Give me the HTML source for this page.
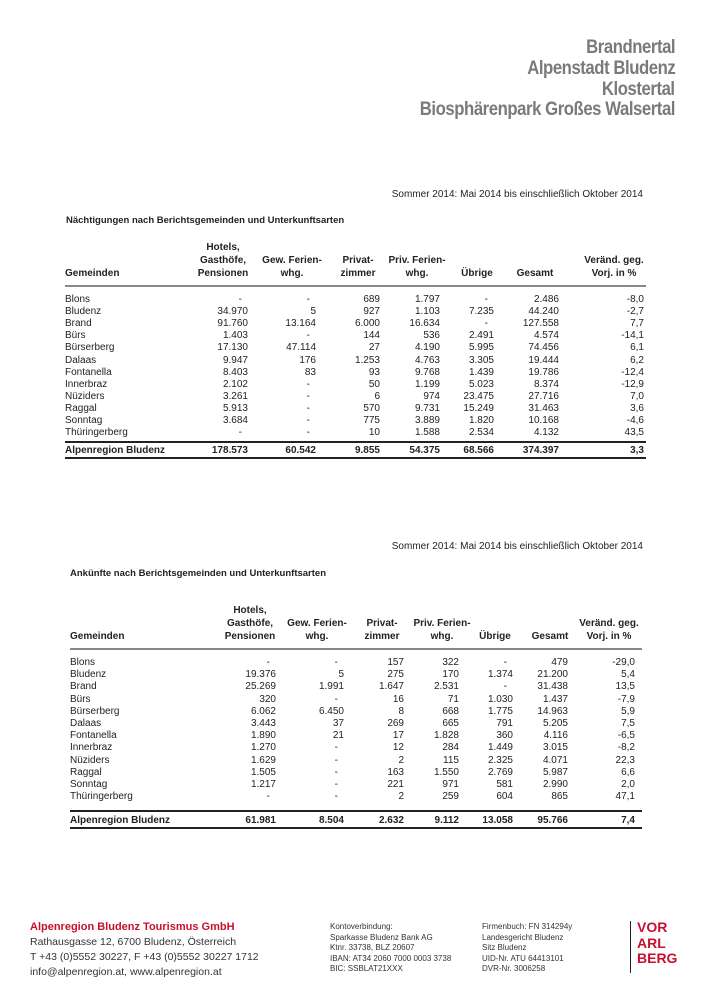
<!DOCTYPE html>
<html><head><meta charset="utf-8"><style>
body{margin:0;width:710px;height:1005px;background:#fff;position:relative;font-family:"Liberation Sans",sans-serif;color:#222;overflow:hidden}
.a{position:absolute;white-space:nowrap}
.r{position:absolute;white-space:nowrap;transform:translateX(-100%)}
.c{position:absolute;white-space:nowrap;transform:translateX(-50%);text-align:center}
.h{font-size:19px;font-weight:bold;color:#7a7a7a;right:35px;letter-spacing:-0.5px;transform:scaleX(0.88);transform-origin:right center}
.t{font-size:10px}
.b{font-weight:bold}
.ln{position:absolute;background:#222}
</style></head><body>
<div class="a h" style="top:37px">Brandnertal</div>
<div class="a h" style="top:58px">Alpenstadt Bludenz</div>
<div class="a h" style="top:79px">Klostertal</div>
<div class="a h" style="top:99px">Biosphärenpark Großes Walsertal</div>

<div class="a t" style="right:67px;top:189px;font-size:10px">Sommer 2014: Mai 2014 bis einschließlich Oktober 2014</div>
<div class="a t b" style="left:66px;top:215px;font-size:9.5px">Nächtigungen nach Berichtsgemeinden und Unterkunftsarten</div>

<div class="a t" style="right:67px;top:541px;font-size:10px">Sommer 2014: Mai 2014 bis einschließlich Oktober 2014</div>
<div class="a t b" style="left:70px;top:568px;font-size:9.5px">Ankünfte nach Berichtsgemeinden und Unterkunftsarten</div>

<div id="t1"></div><div id="t2"></div>

<div class="a" style="left:30px;top:921px;font-size:11px;color:#c8102e;font-weight:bold">Alpenregion Bludenz Tourismus GmbH</div>
<div class="a" style="left:30px;top:935px;font-size:10.5px;line-height:15px;color:#333">Rathausgasse 12, 6700 Bludenz, Österreich<br>T +43 (0)5552 30227, F +43 (0)5552 30227 1712<br>info@alpenregion.at, www.alpenregion.at</div>
<div class="a" style="left:330px;top:922px;font-size:8px;line-height:10.5px;color:#333">Kontoverbindung:<br>Sparkasse Bludenz Bank AG<br>Ktnr. 33738, BLZ 20607<br>IBAN: AT34 2060 7000 0003 3738<br>BIC: SSBLAT21XXX</div>
<div class="a" style="left:482px;top:922px;font-size:8px;line-height:10.5px;color:#333">Firmenbuch: FN 314294y<br>Landesgericht Bludenz<br>Sitz Bludenz<br>UID-Nr. ATU 64413101<br>DVR-Nr. 3006258</div>
<div class="ln" style="left:630px;top:921px;width:1px;height:52px"></div>
<div class="a" style="left:637px;top:920px;font-size:14px;line-height:15.5px;font-weight:bold;color:#c8102e">VOR<br>ARL<br>BERG</div>

<script>
function build(id,o){
 var d=document.getElementById(id),h='';
 var cols=o.cols;
 var hd=[["Hotels,","Gasthöfe,","Pensionen"],["","Gew. Ferien-","whg."],["","Privat-","zimmer"],["","Priv. Ferien-","whg."],["","","Übrige"],["","","Gesamt"],["","Veränd. geg.","Vorj. in %"]];
 h+='<div class="a t b" style="left:'+o.L+'px;top:'+(o.hy+2*o.hs)+'px">Gemeinden</div>';
 hd.forEach(function(c,i){c.forEach(function(s,j){if(s)h+='<div class="c t b" style="left:'+o.hc[i]+'px;top:'+(o.hy+j*o.hs)+'px">'+s+'</div>';});});
 h+='<div class="ln" style="left:'+o.L+'px;width:'+(o.R-o.L)+'px;top:'+o.hl+'px;height:2px;background:#888"></div>';
 o.rows.forEach(function(r,k){var y=o.ry+k*o.rs;
  h+='<div class="a t" style="left:'+o.L+'px;top:'+y+'px">'+r[0]+'</div>';
  for(var i=1;i<8;i++){var v=r[i];var x=cols[i-1];if(v=='-')x-=6;h+='<div class="r t" style="left:'+x+'px;top:'+y+'px">'+v+'</div>';}
 });
 h+='<div class="ln" style="left:'+o.L+'px;width:'+(o.R-o.L)+'px;top:'+o.l1+'px;height:2px"></div>';
 h+='<div class="ln" style="left:'+o.L+'px;width:'+(o.R-o.L)+'px;top:'+o.l2+'px;height:2px"></div>';
 var t=o.tot;h+='<div class="a t b" style="left:'+o.L+'px;top:'+o.ty+'px">'+t[0]+'</div>';
 for(var i=1;i<8;i++)h+='<div class="r t b" style="left:'+cols[i-1]+'px;top:'+o.ty+'px">'+t[i]+'</div>';
 d.innerHTML=h;
}
build('t1',{L:65,R:646,cols:[248,316,380,440,494,559,644],hc:[223,292,358,417,477,535,614],hy:242,hs:13,hl:285,ry:294,rs:12.1,l1:441,l2:457,ty:445,
rows:[["Blons","-","-","689","1.797","-","2.486","-8,0"],["Bludenz","34.970","5","927","1.103","7.235","44.240","-2,7"],["Brand","91.760","13.164","6.000","16.634","-","127.558","7,7"],["Bürs","1.403","-","144","536","2.491","4.574","-14,1"],["Bürserberg","17.130","47.114","27","4.190","5.995","74.456","6,1"],["Dalaas","9.947","176","1.253","4.763","3.305","19.444","6,2"],["Fontanella","8.403","83","93","9.768","1.439","19.786","-12,4"],["Innerbraz","2.102","-","50","1.199","5.023","8.374","-12,9"],["Nüziders","3.261","-","6","974","23.475","27.716","7,0"],["Raggal","5.913","-","570","9.731","15.249","31.463","3,6"],["Sonntag","3.684","-","775","3.889","1.820","10.168","-4,6"],["Thüringerberg","-","-","10","1.588","2.534","4.132","43,5"]],
tot:["Alpenregion Bludenz","178.573","60.542","9.855","54.375","68.566","374.397","3,3"]});
build('t2',{L:70,R:642,cols:[276,344,404,459,513,568,635],hc:[250,317,382,442,495,550,609],hy:605,hs:13,hl:648,ry:657,rs:12.2,l1:810,l2:827,ty:815,
rows:[["Blons","-","-","157","322","-","479","-29,0"],["Bludenz","19.376","5","275","170","1.374","21.200","5,4"],["Brand","25.269","1.991","1.647","2.531","-","31.438","13,5"],["Bürs","320","-","16","71","1.030","1.437","-7,9"],["Bürserberg","6.062","6.450","8","668","1.775","14.963","5,9"],["Dalaas","3.443","37","269","665","791","5.205","7,5"],["Fontanella","1.890","21","17","1.828","360","4.116","-6,5"],["Innerbraz","1.270","-","12","284","1.449","3.015","-8,2"],["Nüziders","1.629","-","2","115","2.325","4.071","22,3"],["Raggal","1.505","-","163","1.550","2.769","5.987","6,6"],["Sonntag","1.217","-","221","971","581","2.990","2,0"],["Thüringerberg","-","-","2","259","604","865","47,1"]],
tot:["Alpenregion Bludenz","61.981","8.504","2.632","9.112","13.058","95.766","7,4"]});
</script>
</body></html>
